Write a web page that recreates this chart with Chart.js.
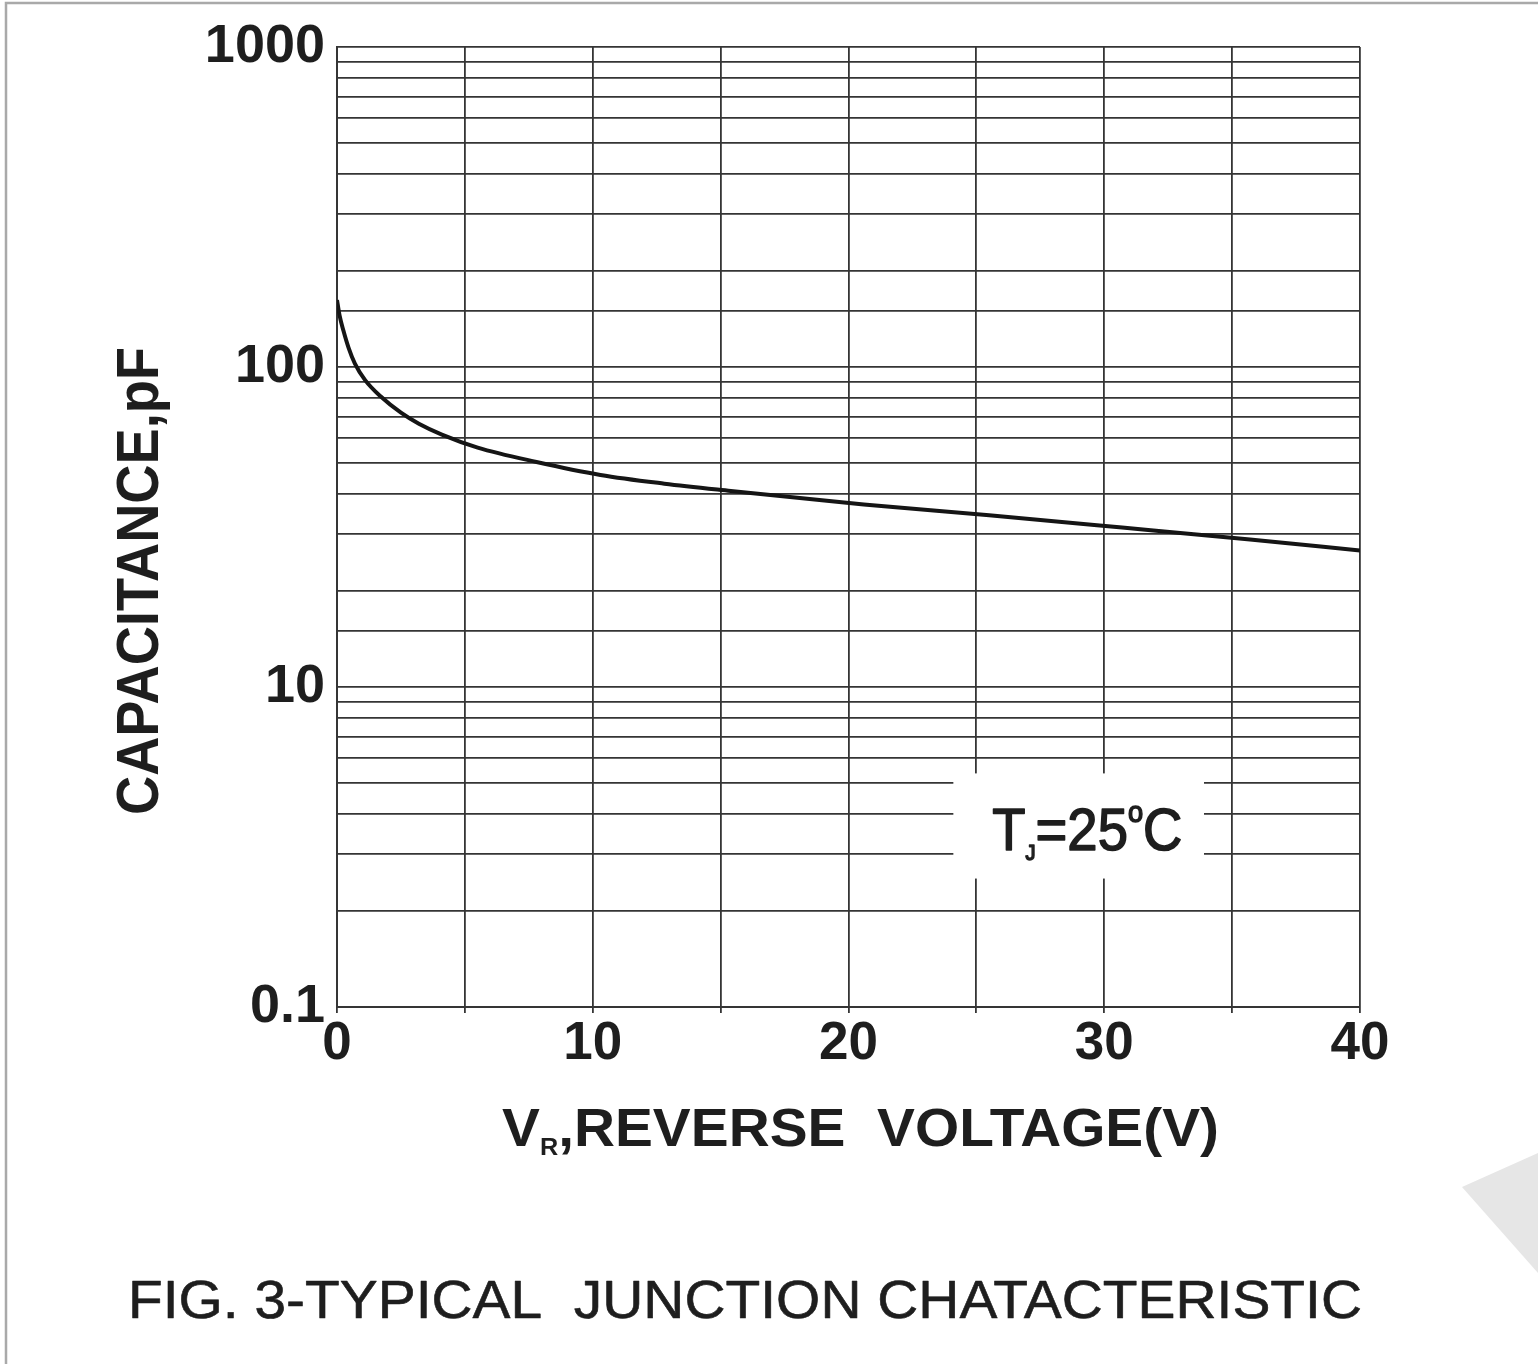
<!DOCTYPE html>
<html>
<head>
<meta charset="utf-8">
<style>
  html, body { margin: 0; padding: 0; background: #fff; overflow: hidden; }
  canvas { display: block; }
</style>
<script src="https://cdn.jsdelivr.net/npm/chart.js@4.4.1/dist/chart.umd.min.js"></script>
</head>
<body>
<canvas id="c" width="1538" height="1364"></canvas>
<script>
// ---- data ----
const reverseVoltage = [0, 0.1, 0.25, 0.45, 0.7, 1.1, 1.7, 2.5, 3.2, 4.1, 5.5, 7.8, 10.3, 12.8, 15.4, 20.6, 25.5, 30.7, 35.7, 40];
const capacitance    = [162, 145, 130, 115, 102.5, 91, 81, 72, 66.5, 61.5, 56, 50.5, 46, 43.2, 41, 37.2, 34.4, 31.5, 28.9, 26.7];
const yTickValues = [1, 10, 100, 1000];
const yTickLabels = ['0.1', '10', '100', '1000'];
const xTickValues = [0, 10, 20, 30, 40];
const xTickLabels = ['0', '10', '20', '30', '40'];
const xTitleParts = ['V', 'R', ',REVERSE  VOLTAGE(V)'];
const yTitle = 'CAPACITANCE,pF';
const caption = 'FIG. 3-TYPICAL  JUNCTION CHATACTERISTIC';
const noteParts = ['T', 'J', '=25', 'o', 'C'];
// annotation box in data units
const noteBox = { xMin: 24.1, xMax: 33.9, yMin: 2.52, yMax: 5.37 };

const FONT = '"Liberation Sans", Arial, Helvetica, sans-serif';
const INK = '#1e1e1e';
const GRID = '#353535';

// draw a sequence of text runs, horizontally fitted to a target width
function drawRuns(ctx, runs, x, y, targetW, strokeW) {
  let total = 0;
  runs.forEach(r => { ctx.font = r.font; r.w = ctx.measureText(r.t).width; total += r.w; });
  const sx = targetW / total;
  ctx.save();
  ctx.translate(x, y);
  ctx.scale(sx, 1);
  ctx.textBaseline = 'alphabetic';
  ctx.textAlign = 'left';
  ctx.strokeStyle = ctx.fillStyle;
  ctx.lineJoin = 'round';
  let cx = 0;
  runs.forEach(r => {
    ctx.font = r.font;
    ctx.fillText(r.t, cx, r.dy || 0);
    if (strokeW) { ctx.lineWidth = strokeW; ctx.strokeText(r.t, cx, r.dy || 0); }
    cx += r.w;
  });
  ctx.restore();
}

const decor = {
  id: 'decor',
  beforeDraw(chart) {
    const ctx = chart.ctx;
    ctx.save();
    ctx.fillStyle = '#fff';
    ctx.fillRect(0, 0, chart.width, chart.height);
    // page frame
    ctx.strokeStyle = '#a9a9a9';
    ctx.lineWidth = 2.5;
    ctx.beginPath();
    ctx.moveTo(6, 1364); ctx.lineTo(6, 3); ctx.lineTo(1538, 3);
    ctx.stroke();
    // faint watermark triangle
    ctx.fillStyle = '#e6e6e6';
    ctx.beginPath();
    ctx.moveTo(1462, 1187); ctx.lineTo(1538, 1153); ctx.lineTo(1538, 1273);
    ctx.closePath(); ctx.fill();
    ctx.restore();
  },
  afterDraw(chart) {
    const ctx = chart.ctx;
    const xs = chart.scales.x, ys = chart.scales.y;
    ctx.save();
    ctx.fillStyle = INK;
    // y axis title
    ctx.save();
    ctx.translate(158, 815);
    ctx.rotate(-Math.PI / 2);
    drawRuns(ctx, [{ t: yTitle, font: 'bold 60px ' + FONT }], 0, 0, 468);
    ctx.restore();
    // x axis title
    drawRuns(ctx, [
      { t: xTitleParts[0], font: 'bold 54px ' + FONT },
      { t: xTitleParts[1], font: 'bold 24px ' + FONT, dy: 9 },
      { t: xTitleParts[2], font: 'bold 54px ' + FONT }
    ], 502, 1146, 717);
    // caption
    drawRuns(ctx, [{ t: caption, font: '53px ' + FONT }], 128, 1318, 1234, 0.6);
    // annotation box
    const bx0 = xs.getPixelForValue(noteBox.xMin), bx1 = xs.getPixelForValue(noteBox.xMax);
    const by0 = ys.getPixelForValue(noteBox.yMax), by1 = ys.getPixelForValue(noteBox.yMin);
    ctx.fillStyle = '#fff';
    ctx.fillRect(bx0, by0, bx1 - bx0, by1 - by0);
    ctx.fillStyle = INK;
    drawRuns(ctx, [
      { t: noteParts[0], font: '60px ' + FONT },
      { t: noteParts[1], font: '22px ' + FONT, dy: 10 },
      { t: noteParts[2], font: '60px ' + FONT },
      { t: noteParts[3], font: '30px ' + FONT, dy: -28 },
      { t: noteParts[4], font: '60px ' + FONT }
    ], bx0 + 39, by0 + 77, 190, 1.6);
    ctx.restore();
  }
};

new Chart(document.getElementById('c'), {
  type: 'line',
  data: {
    datasets: [{
      data: reverseVoltage.map((v, i) => ({ x: v, y: capacitance[i] })),
      borderColor: '#151515',
      borderWidth: 4,
      pointRadius: 0,
      fill: false,
      cubicInterpolationMode: 'monotone'
    }]
  },
  options: {
    responsive: false,
    devicePixelRatio: 1,
    animation: false,
    layout: { padding: { top: 47, right: 178, left: 0, bottom: 0 } },
    plugins: { legend: { display: false }, tooltip: { enabled: false } },
    scales: {
      x: {
        type: 'linear',
        min: 0, max: 40,
        afterFit: s => { s.height = 357; },
        ticks: {
          stepSize: 5,
          autoSkip: false,
          maxRotation: 0,
          padding: 0,
          color: INK,
          font: { family: FONT, size: 53, weight: 'bold' },
          callback: v => { const i = xTickValues.indexOf(v); return i >= 0 ? xTickLabels[i] : ''; }
        },
        grid: { color: GRID, lineWidth: 1.8, drawTicks: true, tickLength: 6 },
        border: { display: true, color: GRID, width: 2 }
      },
      y: {
        type: 'logarithmic',
        min: 1, max: 1000,
        afterFit: s => { s.width = 337; },
        ticks: {
          autoSkip: false,
          padding: 12,
          color: INK,
          font: { family: FONT, size: 54, weight: 'bold' },
          callback: v => { const i = yTickValues.indexOf(v); return i >= 0 ? yTickLabels[i] : ''; }
        },
        grid: { color: GRID, lineWidth: 1.8, drawTicks: false },
        border: { display: true, color: GRID, width: 2 }
      }
    }
  },
  plugins: [decor]
});
</script>
</body>
</html>
